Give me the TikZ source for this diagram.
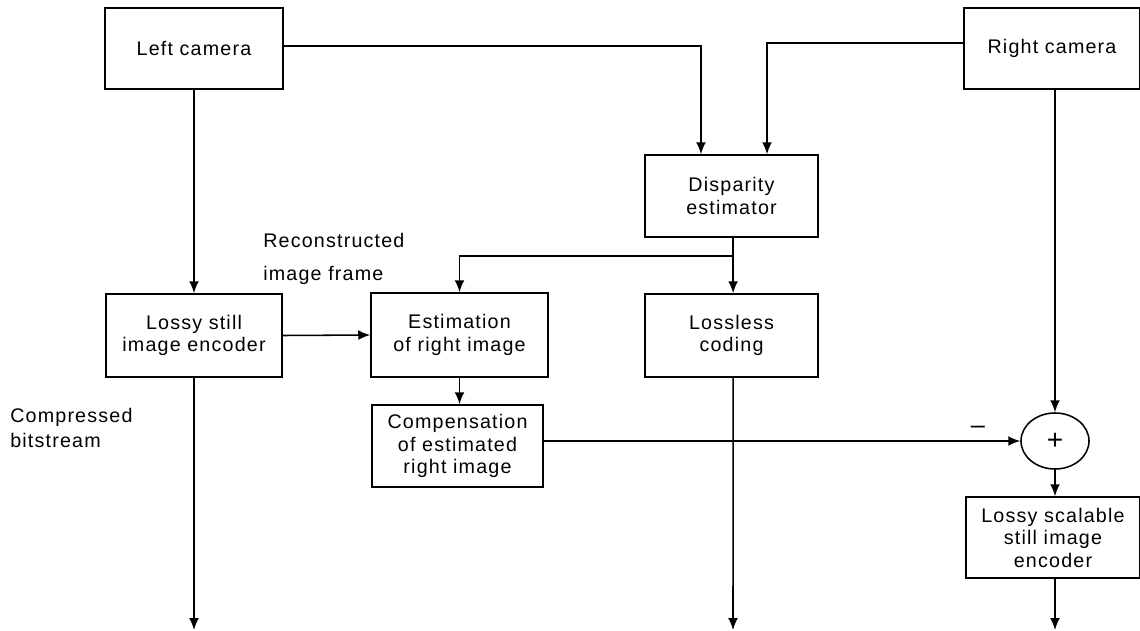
\documentclass[tikz,border=0pt]{standalone}
\usepackage{fontspec}
\setmainfont{Liberation Sans}[LetterSpace=6]
\usetikzlibrary{arrows.meta,shapes.geometric,calc}
\begin{document}
\begin{tikzpicture}[x=0.025cm,y=-0.025cm,
  every node/.style={font=\fontsize{14}{16}\selectfont},
  blk/.style={draw, line width=1.1pt, align=center, inner sep=2pt},
  arr/.style={line width=1.1pt, -{Latex[length=8.5pt,width=7pt]}},
  lbl/.style={anchor=west, inner sep=0pt}]
\useasboundingbox (0,0) rectangle (1140,631);

\node[blk, minimum width=4.45cm, minimum height=2.025cm] (lc) at (194,48.5) {Left camera};
\node[blk, minimum width=4.4cm, minimum height=2.025cm] (rc) at (1052,48.5) {Right camera};
\node[blk, minimum width=4.325cm, minimum height=2.05cm] (disp) at (731.5,196) {Disparity\\estimator};
\node[blk, minimum width=4.4cm, minimum height=2.075cm] (lossy) at (194,335.5) {Lossy still\\image encoder};
\node[blk, minimum width=4.425cm, minimum height=2.1cm] (est) at (459.5,335) {Estimation\\of right image};
\node[blk, minimum width=4.325cm, minimum height=2.075cm] (lossless) at (731.5,335.5) {Lossless\\coding};
\node[blk, minimum width=4.275cm, minimum height=2.05cm] (comp) at (457.5,446) {Compensation\\of estimated\\right image};
\node[draw, line width=1.1pt, ellipse, inner sep=0pt, minimum width=1.7cm, minimum height=1.4cm, font=\fontsize{20}{20}\selectfont] (sum) at (1055,441) {+};
\node[blk, minimum width=4.35cm, minimum height=2.025cm] (scal) at (1053,537.5) {Lossy scalable\\still image\\encoder};

\node[lbl] (rec1) at (263,240) {Reconstructed};
\node[lbl] (rec2) at (263,275) {image frame};
\node[lbl] (cb1) at (10,417) {Compressed};
\node[lbl] (cb2) at (10,440) {bitstream};
\node[inner sep=0pt, font=\fontsize{18}{18}\selectfont] (minus) at (978,430) {\textendash};

\coordinate (o1) at (194,630);
\coordinate (o2) at (733,630);
\coordinate (o3) at (1055,630);

\draw[arr] ([yshift=0.0625cm]lc.east) -| ([xshift=-0.7625cm]disp.north);
\draw[arr] ([yshift=0.14cm]rc.west) -| ([xshift=0.8875cm]disp.north);
\draw[arr] (lc.south) -- (lossy.north);
\draw[arr] (rc.south -| sum.north) -- (sum.north);
\draw[arr] ([xshift=0.04cm]disp.south) -- ([xshift=0.04cm]lossless.north);
\draw[arr] ($(disp.south)!0.333!(lossless.north)$) -| (est.north);
\draw[arr] (lossy.east) -- (est.west);
\draw[arr] (est.south) -- (est.south |- comp.north);
\draw[arr] (comp.east |- sum.west) -- (sum.west);
\draw[arr] (sum.south) -- (sum.south |- scal.north);
\draw[arr] (lossy.south) -- (o1);
\draw[arr] ([xshift=0.04cm]lossless.south) -- (o2);
\draw[arr] (scal.south -| o3) -- (o3);
\end{tikzpicture}
\end{document}
